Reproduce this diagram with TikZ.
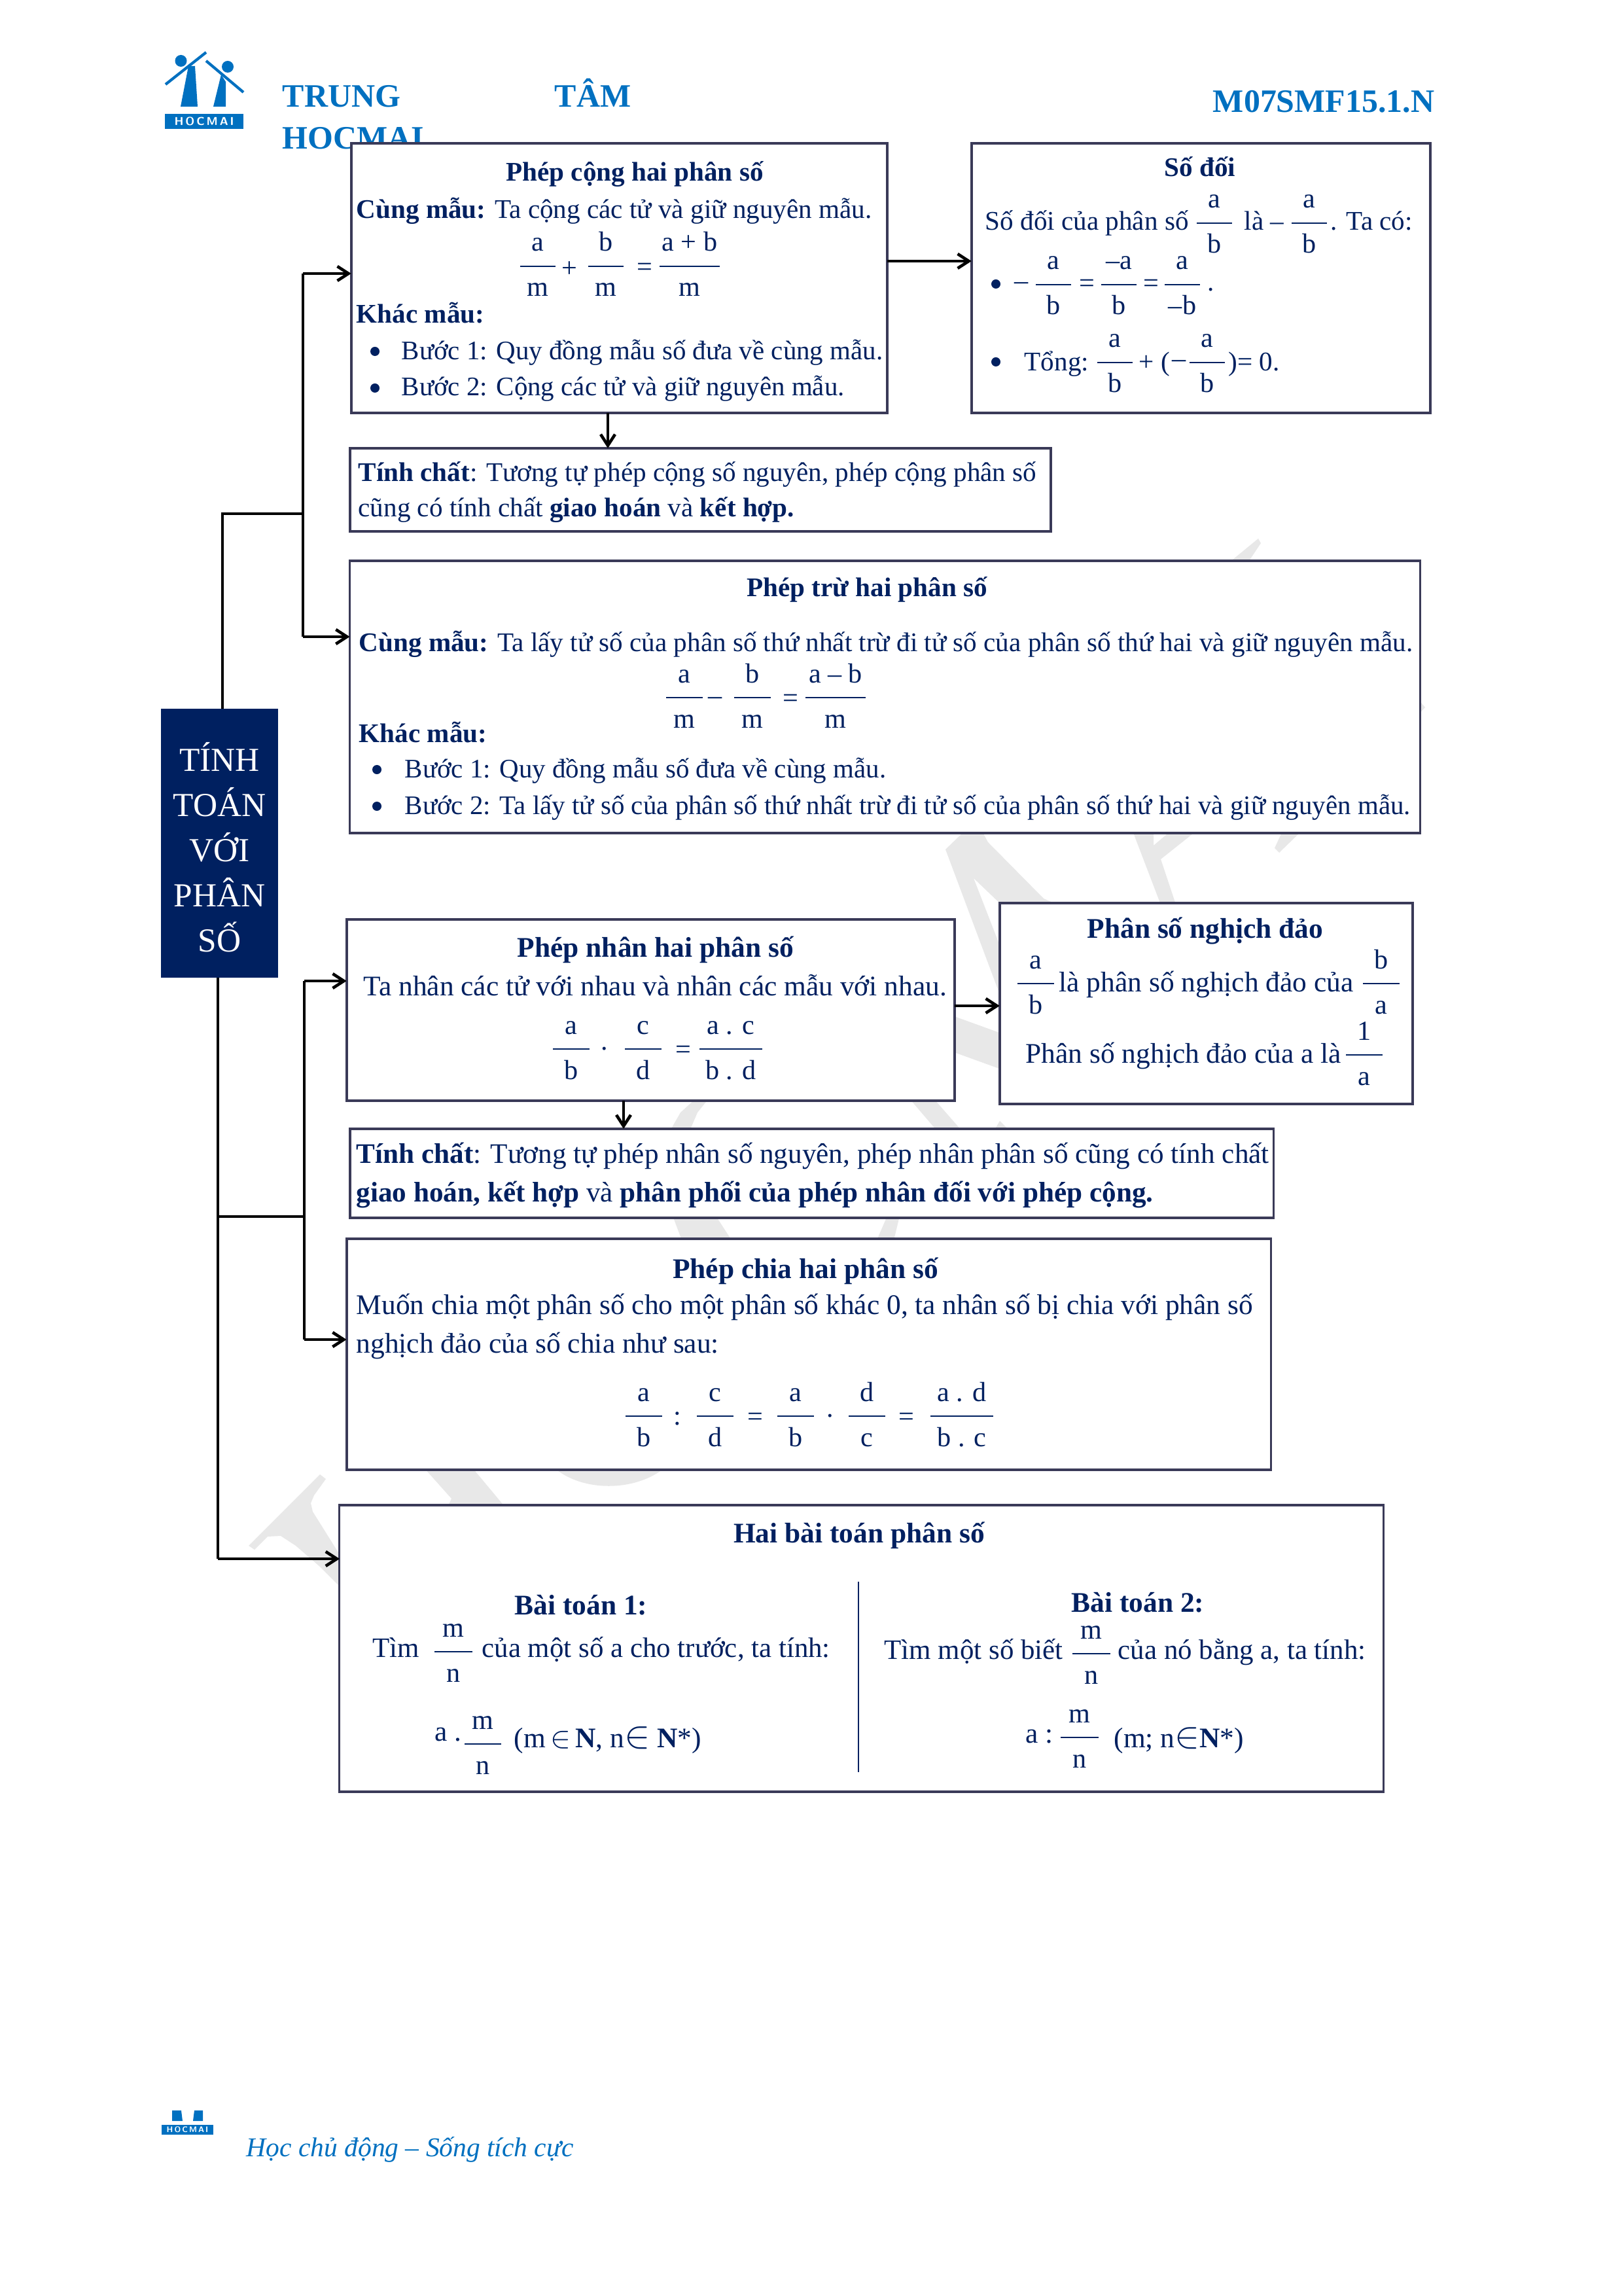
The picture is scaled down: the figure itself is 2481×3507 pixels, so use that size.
\documentclass[tikz,border=0pt]{standalone}
\usepackage{amsmath}
\usepackage{fontspec}
\setmainfont{Liberation Serif}
\usepackage{xcolor}
\usetikzlibrary{arrows.meta}
\definecolor{navy}{HTML}{002060}
\definecolor{hmblue}{HTML}{0070C0}
\definecolor{slate}{HTML}{3A3A58}
\definecolor{ghost}{HTML}{E8E8E8}

\tikzset{
    panel/.style={draw=slate, line width=1.1pt, fill=white, inner sep=0pt, outer sep=0pt},
    body/.style={anchor=base west, inner sep=0pt, text=navy, font=\fontsize{11.7}{14}\selectfont},
    bodyb/.style={body, font=\fontsize{12.35}{14}\selectfont},
    bodyc/.style={body, font=\fontsize{12.2}{14}\selectfont},
    bodyd/.style={body, font=\fontsize{12.28}{14}\selectfont},
    stepline/.style={body, font=\fontsize{11.64}{14}\selectfont},
    title/.style={anchor=base, inner sep=0pt, text=navy, font=\fontsize{11.7}{14}\selectfont\bfseries},
    titleb/.style={title, font=\fontsize{12.35}{14}\selectfont\bfseries},
    sign/.style={anchor=center, inner sep=0pt, text=navy, font=\fontsize{12}{14}\selectfont},
    head/.style={anchor=base west, inner sep=0pt, text=hmblue, font=\fontsize{14.2}{18}\selectfont\bfseries},
    wire/.style={line width=1.1pt, black},
    link/.style={line width=1.3pt, black, -{Straight Barb[length=1.7mm, width=2.2mm]}},
    dot/.style={circle, fill=navy, minimum size=0.14cm, inner sep=0pt}
}

% fraction: name, centre x, bar y, half width, top, bottom
\newcommand{\fracat}[6]{
    \draw[navy, line width=0.6pt] (#2-#4,#3) -- (#2+#4,#3);
    \node[sign, anchor=base] (#1n) at (#2,#3-23) {#5};
    \node[sign, anchor=base] (#1d) at (#2,#3+46) {#6};
}

\begin{document}
\begin{tikzpicture}[x=0.01cm, y=-0.01cm]
    \useasboundingbox (0,0) rectangle (2481,3507);
    \fill[white] (0,0) rectangle (2481,3507);

    % watermark pieces
    \fill[ghost] (1445,1298) -- (1472,1272) -- (1502,1272) -- (1510,1287) -- (1595,1373) -- (1622,1385) -- (1533,1385) -- (1488,1342) -- (1530,1450) -- (1530,1525) -- cycle;
    \fill[ghost] (1450,1550) -- (1530,1579) -- (1530,1634) -- (1450,1605) -- cycle;
    \fill[ghost] (1391,1680) -- (1428,1680) -- (1470,1728) -- (1432,1728) -- cycle;
    \fill[ghost] (1519,1728) -- (1528,1713) -- (1543,1728) -- cycle;
    \fill[ghost] (1024,1728) -- (1040,1700) -- (1062,1680) -- (1082,1680) -- (1066,1700) -- (1054,1728) -- cycle;
    \fill[ghost] (1028,1858) -- (1042,1895) -- (1118,1895) -- (1094,1858) -- cycle;
    \fill[ghost] (1356,1858) -- (1375,1858) -- (1366,1895) -- (1340,1895) -- cycle;
    \fill[ghost] (1731,1270) -- (1763,1270) -- (1763,1292) -- (1789,1270) -- (1828,1270) -- (1774,1313) -- (1798,1385) -- (1775,1385) -- cycle;
    \fill[ghost] (1878,860) -- (1923,823) -- (1927,830) -- (1907,860) -- cycle;
    \fill[ghost] (2165,1068) -- (2172,1074) -- (2178,1081) -- (2165,1095) -- cycle;
    \fill[ghost] (1960,1270) -- (1948,1296) -- (1955,1303) -- (1989,1270) -- cycle;
    \fill[ghost] (489,2253) -- (498,2260) -- (480,2285) -- (475,2297) -- (478,2310) -- (525,2385) -- (525,2430) -- (490,2395) -- (452,2362) -- (429,2347) -- (409,2348) -- (389,2368) -- (380,2362) -- cycle;
    \fill[ghost] (648,2243) -- (690,2290) -- (684,2303) -- (772,2303) -- (722,2243) -- cycle;
    \fill[ghost] (847,2243) .. controls (890,2280) and (970,2280) .. (1016,2243) -- cycle;

    % logo
    \fill[hmblue] (252,174) rectangle (372,197);
    \node[inner sep=0pt, text=white, font=\fontsize{5}{6}\selectfont\bfseries\sffamily] (logotext) at (312,185.5) {H\,O\,C\,M\,A\,I};
    \fill[hmblue] (276.5,93) circle (9);
    \fill[hmblue] (348,102) circle (9);
    \fill[hmblue] (288,101) -- (276,163) -- (302,163) -- (298,101) -- cycle;
    \fill[hmblue] (338,114) -- (326,163) -- (345,163) -- (345,125) -- cycle;
    \draw[hmblue, line width=1.2pt] (253,129) -- (315,80);
    \draw[hmblue, line width=1.2pt] (315,93) -- (372,141);

    \node[head] (trung) at (431,164) {TRUNG};
    \node[head] (tam) at (847,164) {TÂM};
    \node[head] (hocmai) at (431,228) {HOCMAI};
    \node[head, anchor=base east] (code) at (2193,172) {M07SMF15.1.N};

    % root
    \node[fill=navy, inner sep=0pt, outer sep=0pt, minimum width=1.79cm, minimum height=4.11cm] (root) at (335.5,1288.5) {};
    \node[text=white, inner sep=0pt, align=center, font=\fontsize{14.6}{19.6}\selectfont] (rootlabel) at (335.5,1295) {TÍNH\\TOÁN\\VỚI\\PHÂN\\SỐ};

    % panels
    \node[panel, minimum width=8.19cm, minimum height=4.12cm] (addbox) at (946.5,425) {};
    \node[panel, minimum width=7.01cm, minimum height=4.12cm] (oppbox) at (1835.5,425) {};
    \node[panel, minimum width=10.71cm, minimum height=1.27cm] (addprop) at (1070.5,748.5) {};
    \node[panel, minimum width=16.35cm, minimum height=4.16cm] (subbox) at (1352.5,1065) {};
    \node[panel, minimum width=9.29cm, minimum height=2.77cm] (mulbox) at (994.5,1543.5) {};
    \node[panel, minimum width=6.31cm, minimum height=3.07cm] (invbox) at (1843.5,1533.5) {};
    \node[panel, minimum width=14.11cm, minimum height=1.36cm] (mulprop) at (1240.5,1793) {};
    \node[panel, minimum width=14.12cm, minimum height=3.53cm] (divbox) at (1236,2069.5) {};
    \node[panel, minimum width=15.95cm, minimum height=4.38cm] (twobox) at (1316.5,2519) {};

    % connectors
    \coordinate (jointa) at (463,785);
    \coordinate (topa) at (463,418);
    \coordinate (bota) at (463,973);
    \coordinate (rootup) at (340,1083);
    \coordinate (jointb) at (465,1859);
    \coordinate (topb) at (465,1499);
    \coordinate (botb) at (465,2047);
    \coordinate (rootdown) at (333,1494);
    \coordinate (twoin) at (519,2382);
    \coordinate (addout) at (1356,399);
    \coordinate (addunder) at (929,631);
    \coordinate (mulout) at (1459,1537);
    \coordinate (mulunder) at (953,1682);
    \draw[wire] (rootup) -- (rootup |- jointa) -- (jointa);
    \draw[wire] (bota) -- (topa);
    \draw[link] (topa) -- (topa -| addbox.west);
    \draw[link] (bota) -- (bota -| subbox.west);
    \draw[link] (addout) -- (addout -| oppbox.west);
    \draw[link] (addunder) -- (addunder |- addprop.north);
    \draw[wire] (rootdown) -- (rootdown |- twoin);
    \draw[link] (rootdown |- twoin) -- (twoin);
    \draw[wire] (rootdown |- jointb) -- (jointb);
    \draw[wire] (botb) -- (topb);
    \draw[link] (topb) -- (topb -| mulbox.west);
    \draw[link] (botb) -- (botb -| divbox.west);
    \draw[link] (mulout) -- (mulout -| invbox.west);
    \draw[link] (mulunder) -- (mulunder |- mulprop.north);

    % phep cong
    \node[title] (addtitle) at (970,277) {Phép cộng hai phân số};
    \node[body] (addsame) at (544,334) {\textbf{Cùng mẫu:} Ta cộng các tử và giữ nguyên mẫu.};
    \fracat{adda}{822}{407}{27}{a}{m}
    \fracat{addb}{926}{407}{27}{b}{m}
    \fracat{addc}{1054}{407}{46}{a + b}{m}
    \node[sign] (addplus) at (870,412) {+};
    \node[sign] (addeq) at (985,412) {=};
    \node[body] (adddiff) at (544,494) {\textbf{Khác mẫu:}};
    \node[dot] (addbula) at (573,537) {};
    \node[stepline] (addstepa) at (613,550) {Bước 1: Quy đồng mẫu số đưa về cùng mẫu.};
    \node[dot] (addbulb) at (573,593) {};
    \node[stepline] (addstepb) at (613,605) {Bước 2: Cộng các tử và giữ nguyên mẫu.};

    % so doi
    \node[title] (opptitle) at (1834,270) {Số đối};
    \node[body] (oppline) at (1505,352) {Số đối của phân số};
    \fracat{oppa}{1856}{341}{27}{a}{b}
    \node[body] (oppis) at (1901,352) {là –};
    \fracat{oppb}{2001}{341}{27}{a}{b}
    \node[body] (opphave) at (2033,352) {. Ta có:};
    \node[dot] (oppbula) at (1522,434) {};
    \node[sign] (oppminus) at (1561,437) {–};
    \fracat{oppc}{1610}{435}{27}{a}{b}
    \node[sign] (oppeqa) at (1661,437) {=};
    \fracat{oppd}{1710}{435}{27}{–a}{b}
    \node[sign] (oppeqb) at (1759,437) {=};
    \fracat{oppe}{1807}{435}{27}{a}{–b}
    \node[body] (oppstop) at (1845,445) {.};
    \node[dot] (oppbulb) at (1522,553) {};
    \node[body] (oppsum) at (1565,567) {Tổng:};
    \fracat{oppf}{1704}{554}{27}{a}{b}
    \node[body] (oppplus) at (1740,567) {+ (};
    \node[sign] (oppneg) at (1802,556) {–};
    \fracat{oppg}{1845}{554}{27}{a}{b}
    \node[body] (oppzero) at (1877,567) {)= 0.};

    \node[body] (addpropa) at (547,736) {\textbf{Tính chất}: Tương tự phép cộng số nguyên, phép cộng phân số};
    \node[body] (addpropb) at (547,790) {cũng có tính chất \textbf{giao hoán} và \textbf{kết hợp.}};

    % phep tru
    \node[title] (subtitle) at (1325,912) {Phép trừ hai phân số};
    \node[body] (subsame) at (548,995) {\textbf{Cùng mẫu:} Ta lấy tử số của phân số thứ nhất trừ đi tử số của phân số thứ hai và giữ nguyên mẫu.};
    \fracat{suba}{1046}{1066}{28}{a}{m}
    \fracat{subb}{1150}{1066}{28}{b}{m}
    \fracat{subc}{1277}{1066}{46}{a – b}{m}
    \node[sign] (subminus) at (1093,1071) {–};
    \node[sign] (subeq) at (1208,1071) {=};
    \node[body] (subdiff) at (548,1134) {\textbf{Khác mẫu:}};
    \node[dot] (subbula) at (576,1176) {};
    \node[stepline] (substepa) at (618,1188) {Bước 1: Quy đồng mẫu số đưa về cùng mẫu.};
    \node[dot] (subbulb) at (576,1232) {};
    \node[stepline] (substepb) at (618,1244) {Bước 2: Ta lấy tử số của phân số thứ nhất trừ đi tử số của phân số thứ hai và giữ nguyên mẫu.};

    % phep nhan
    \node[titleb] (multitle) at (1002,1462) {Phép nhân hai phân số};
    \node[bodyb] (mulline) at (555,1521) {Ta nhân các tử với nhau và nhân các mẫu với nhau.};
    \fracat{mula}{873}{1603}{28}{a}{b}
    \fracat{mulb}{983}{1603}{28}{c}{d}
    \fracat{mulc}{1117}{1603}{48}{a . c}{b . d}
    \node[sign] (multimes) at (924,1603) {.};
    \node[sign] (muleq) at (1044,1608) {=};

    % nghich dao
    \node[titleb] (invtitle) at (1842,1433) {Phân số nghịch đảo};
    \fracat{inva}{1583}{1503}{28}{a}{b}
    \node[bodyb] (invline) at (1618,1515) {là phân số nghịch đảo của};
    \fracat{invb}{2111}{1503}{28}{b}{a}
    \node[bodyb] (invlinb) at (1567,1624) {Phân số nghịch đảo của a là};
    \fracat{invc}{2085}{1612}{28}{1}{a}

    \node[bodyd] (mulpropa) at (544,1777) {\textbf{Tính chất}: Tương tự phép nhân số nguyên, phép nhân phân số cũng có tính chất};
    \node[bodyd] (mulpropb) at (544,1836) {\textbf{giao hoán, kết hợp} và \textbf{phân phối của phép nhân đối với phép cộng.}};

    % phep chia
    \node[titleb] (divtitle) at (1231,1953) {Phép chia hai phân số};
    \node[bodyb] (divlina) at (544,2008) {Muốn chia một phân số cho một phân số khác 0, ta nhân số bị chia với phân số};
    \node[bodyb] (divlinb) at (544,2067) {nghịch đảo của số chia như sau:};
    \fracat{diva}{984}{2164}{28}{a}{b}
    \fracat{divb}{1093}{2164}{28}{c}{d}
    \fracat{divc}{1216}{2164}{28}{a}{b}
    \fracat{divd}{1325}{2164}{28}{d}{c}
    \fracat{dive}{1470}{2164}{48}{a . d}{b . c}
    \node[sign] (divby) at (1035,2168) {:};
    \node[sign] (diveqa) at (1154,2169) {=};
    \node[sign] (divtimes) at (1269,2164) {.};
    \node[sign] (diveqb) at (1385,2169) {=};

    % hai bai toan
    \node[titleb] (twotitle) at (1313,2357) {Hai bài toán phân số};
    \draw[navy, line width=0.7pt] (1312,2417) -- (1312,2708);
    \node[titleb] (onetitle) at (888,2467) {Bài toán 1:};
    \node[bodyc] (oneword) at (569,2532) {Tìm};
    \fracat{onea}{693}{2524}{29}{m}{n}
    \node[bodyc] (oneline) at (736,2532) {của một số a cho trước, ta tính:};
    \node[bodyb] (onedot) at (664,2660) {a .};
    \fracat{oneb}{738}{2665}{28}{m}{n}
    \node[bodyb] (onecond) at (785,2670) {(m\,\scalebox{1.1}{$\in$}\,\textbf{N}, n\scalebox{1.4}{$\in$}\ \textbf{N}*)};
    \node[titleb] (sectitle) at (1739,2463) {Bài toán 2:};
    \node[bodyc] (secword) at (1351,2535) {Tìm một số biết};
    \fracat{seca}{1668}{2527}{29}{m}{n}
    \node[bodyc] (secline) at (1708,2535) {của nó bằng a, ta tính:};
    \node[bodyb] (seccol) at (1567,2663) {a :};
    \fracat{secb}{1650}{2655}{29}{m}{n}
    \node[bodyb] (seccond) at (1702,2670) {(m; n\scalebox{1.35}{$\in$}\textbf{N}*)};

    % footer
    \fill[hmblue] (247,3247) rectangle (326,3262);
    \node[inner sep=0pt, text=white, font=\fontsize{3.5}{4}\selectfont\bfseries\sffamily] (foottext) at (286.5,3254.5) {H\,O\,C\,M\,A\,I};
    \fill[hmblue] (263,3225) -- (277,3225) -- (279,3241) -- (263,3241) -- cycle;
    \fill[hmblue] (297,3225) -- (310,3225) -- (310,3241) -- (295,3241) -- cycle;
    \node[anchor=base west, inner sep=0pt, text=hmblue, font=\fontsize{11.8}{14}\selectfont\itshape] (motto) at (376,3295) {Học chủ động – Sống tích cực};
\end{tikzpicture}
\end{document}
